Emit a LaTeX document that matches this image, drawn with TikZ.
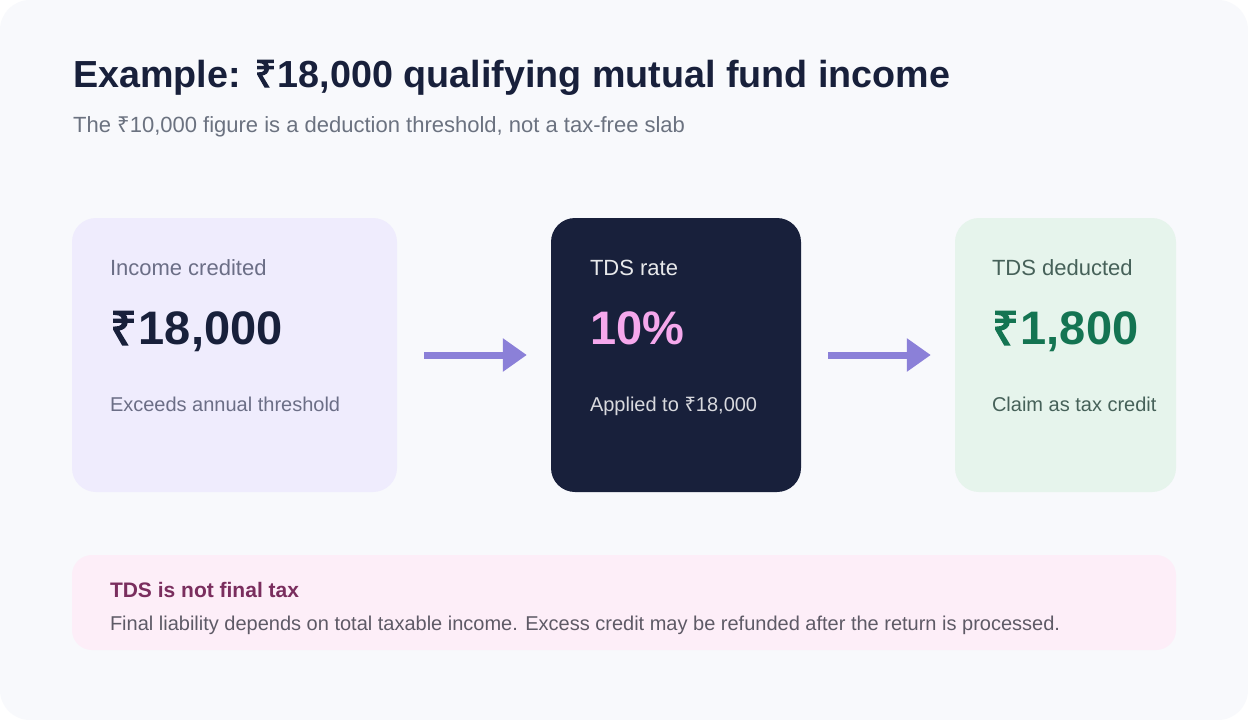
\documentclass[tikz,border=0pt]{standalone}
\usepackage{fontspec}
\setmainfont{Liberation Sans}
\newfontface\rupeeface{Noto Sans}
\newfontface\rupeeboldface{Noto Sans}[FakeBold=3]
\newcommand\rupee{{\rupeeface ₹}}
\newcommand\rupeeb{{\rupeeboldface ₹\kern.04em}}
\usetikzlibrary{arrows.meta,calc}
\definecolor{pagebg}{HTML}{F8F9FC}
\definecolor{ink}{HTML}{18203B}
\definecolor{muted}{HTML}{6B7280}
\definecolor{lav}{HTML}{EFECFD}
\definecolor{mint}{HTML}{E6F4EC}
\definecolor{blush}{HTML}{FDEEF8}
\definecolor{flowc}{HTML}{8B80D8}
\definecolor{pinkc}{HTML}{F5A8EC}
\definecolor{greenc}{HTML}{147452}
\definecolor{lavtxt}{HTML}{6B6E86}
\definecolor{minttxt}{HTML}{466159}
\definecolor{plum}{HTML}{7A2E5E}
\definecolor{notetxt}{HTML}{5E5A66}
\begin{document}
\begin{tikzpicture}[x=1pt,y=-1pt,
  card/.style={rounded corners=24pt,inner sep=0pt,minimum height=274pt},
  txt/.style={anchor=base west,inner sep=0pt},
  lbl/.style={txt,font=\fontsize{22}{26}\selectfont},
  big/.style={txt,font=\fontsize{47}{53}\selectfont\bfseries},
  small/.style={txt,font=\fontsize{20}{24}\selectfont},
  flow/.style={flowc,line width=7pt,shorten <=27pt,shorten >=24pt,
    -{Triangle[length=24pt,width=32pt]}}]
\fill[white] (0,0) rectangle (1248,720);
\fill[pagebg,rounded corners=30pt] (0,0) rectangle (1248,720);
\useasboundingbox (0,0) rectangle (1248,720);
% heading
\node[txt,text=ink,font=\fontsize{37.7}{44}\selectfont\bfseries] (title) at (73,87)
  {Example: \rupeeb18,000 qualifying mutual fund income};
\node[txt,text=muted,font=\fontsize{22}{26}\selectfont] (subtitle) at (73,132)
  {The \rupee10,000 figure is a deduction threshold, not a tax-free slab};
% cards
\node[card,fill=lav,minimum width=325pt] (income) at (234.5,355) {};
\node[card,fill=ink,minimum width=250pt] (rate) at (676,355) {};
\node[card,fill=mint,minimum width=221pt] (tds) at (1065.5,355) {};
\node[lbl,text=lavtxt] (incomelbl) at ($(income.north west)+(38,58)$) {Income credited};
\node[big,text=ink] (incomeval) at ($(income.north west)+(38,127)$) {\rupeeb18,000};
\node[small,text=lavtxt] (incomenote) at ($(income.north west)+(38,194)$) {Exceeds annual threshold};
\node[lbl,text=white!90!ink] (ratelbl) at ($(rate.north west)+(39,58)$) {TDS rate};
\node[big,text=pinkc] (rateval) at ($(rate.north west)+(39,127)$) {10\%};
\node[small,text=white!83!ink] (ratenote) at ($(rate.north west)+(39,194)$) {Applied to \rupee18,000};
\node[lbl,text=minttxt] (tdslbl) at ($(tds.north west)+(37,58)$) {TDS deducted};
\node[big,text=greenc] (tdsval) at ($(tds.north west)+(37,127)$) {\rupeeb1,800};
\node[small,text=minttxt] (tdsnote) at ($(tds.north west)+(37,194)$) {Claim as tax credit};
\draw[flow] (income.east) -- (rate.west);
\draw[flow] (rate.east) -- (tds.west);
% note
\node[rounded corners=20pt,fill=blush,inner sep=0pt,minimum width=1104pt,
  minimum height=95pt] (note) at (624,602.5) {};
\node[txt,text=plum,font=\fontsize{21}{25}\selectfont\bfseries] (notetitle)
  at ($(note.north west)+(38,43)$) {TDS is not final tax};
\node[txt,text=notetxt,font=\fontsize{20}{24}\selectfont] (notebody)
  at ($(note.north west)+(38,76)$)
  {Final liability depends on total taxable income. Excess credit may be refunded after the return is processed.};
\end{tikzpicture}
\end{document}
